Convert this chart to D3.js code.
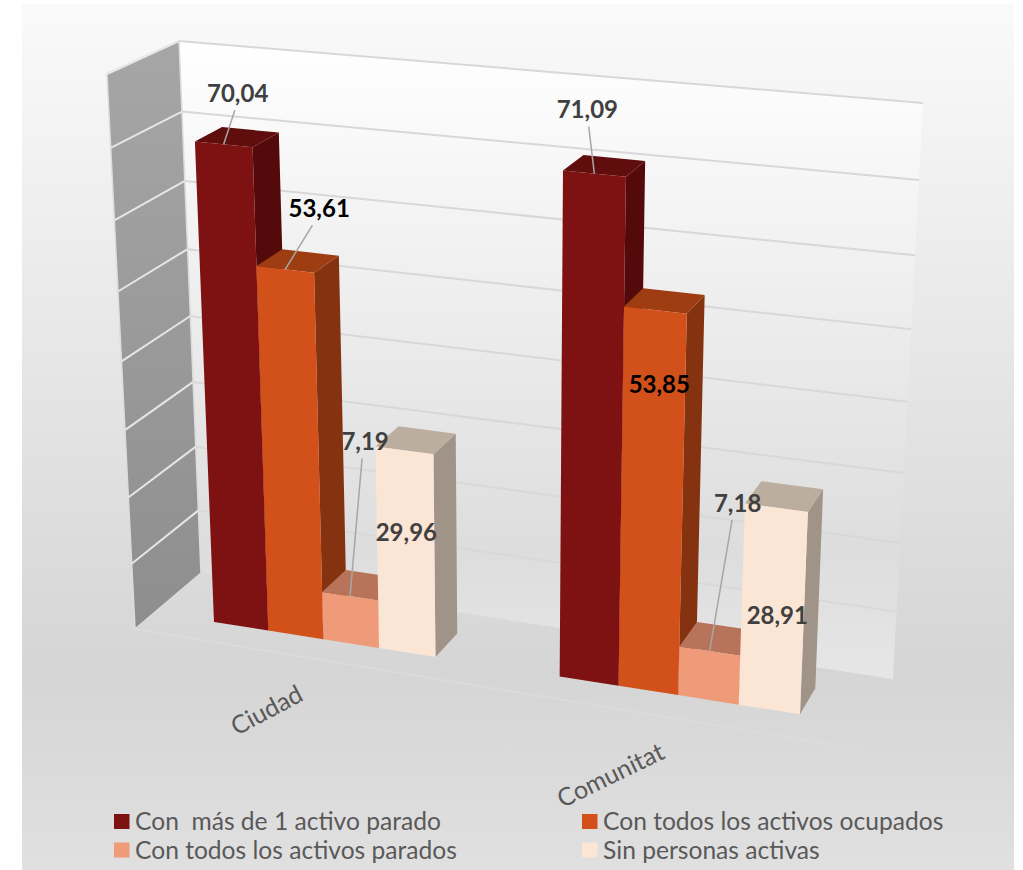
<!DOCTYPE html>
<html>
<head>
<meta charset="utf-8">
<script src="https://cdn.jsdelivr.net/npm/d3@7"></script>
<style>
  html, body { margin: 0; padding: 0; background: #fff; }
  text { font-family: Lato, "Open Sans", sans-serif; white-space: pre; }
</style>
</head>
<body>
<div id="chart"></div>
<script>
// Data
const categories = ["Ciudad", "Comunitat"];
const seriesNames = ["Con  más de 1 activo parado", "Con todos los activos ocupados", "Con todos los activos parados", "Sin personas activas"];
const masDeUnParado = [70.04, 71.09];
const todosOcupados = [53.61, 53.85];
const todosParados = [7.19, 7.18];
const sinActivas = [29.96, 28.91];
const seriesValues = [masDeUnParado, todosOcupados, todosParados, sinActivas];
const valueTicks = [10, 20, 30, 40, 50, 60, 70, 80];

// Face colours per series
const frontColors = ["#7e1212", "#d2501a", "#ef9a79", "#fbe5d5"];
const topColors = ["#5f0e0d", "#9e3d12", "#b7745a", "#bcae9f"];
const sideColors = ["#540a0a", "#843210", "#a0644d", "#a09488"];

// Where each label sits relative to the top of its bar: [dx, dy], leader or not, colour
const labelOffsets = [
  [[14, -52], [-7, -65]],
  [[34, -62], [4, 73]],
  [[15, -156], [28, -149]],
  [[2, 81], [1, 107]]
];
const leaderSeries = [[true, true], [true, false], [true, true], [false, false]];
const labelColors = ["#404040", "#000", "#404040", "#404040"];

// Maps the unit square onto a four corner quad (perspective)
function quadMap(p00, p10, p11, p01) {
  const dx1 = p10[0] - p11[0], dx2 = p01[0] - p11[0], sx = p00[0] - p10[0] + p11[0] - p01[0];
  const dy1 = p10[1] - p11[1], dy2 = p01[1] - p11[1], sy = p00[1] - p10[1] + p11[1] - p01[1];
  const det = dx1 * dy2 - dx2 * dy1;
  const g = (sx * dy2 - dx2 * sy) / det;
  const h = (dx1 * sy - sx * dy1) / det;
  const a = p10[0] - p00[0] + g * p10[0], b = p01[0] - p00[0] + h * p01[0], c = p00[0];
  const d = p10[1] - p00[1] + g * p10[1], e = p01[1] - p00[1] + h * p01[1], f = p00[1];
  return function(u, v) {
    const w = g * u + h * v + 1;
    return [(a * u + b * v + c) / w, (d * u + e * v + f) / w];
  };
}

const W = 1023, H = 870;
const svg = d3.select("#chart").append("svg").attr("width", W).attr("height", H);
const defs = svg.append("defs");

function gradient(id, stops, x1, y1, x2, y2) {
  const g = defs.append("linearGradient").attr("id", id)
    .attr("x1", x1).attr("y1", y1).attr("x2", x2).attr("y2", y2);
  stops.forEach(s => g.append("stop").attr("offset", s[0]).attr("stop-color", s[1]));
}
gradient("panelGrad", [[0, "#fafafa"], [0.77, "#d5d5d5"], [1, "#e0e0e0"]], 0, 0, 0, 1);
gradient("wallGrad", [[0, "#ffffff"], [0.8, "#dddddd"], [1, "#e6e6e6"]], 0, 0, 0, 1);
gradient("sideGrad", [[0, "#a6a6a6"], [1, "#8e8e8e"]], 0, 0, 0, 1);

// Scales
const vScale = d3.scaleLinear().domain([0, 80]).range([0, 1]);
const x0 = d3.scaleBand().domain(categories).range([0, 1]).paddingInner(0.35);
const x1 = d3.scaleBand().domain(seriesNames).range([0, x0.bandwidth()]);

// Walls and the two planes holding the bar faces
const backWall = quadMap([201, 573], [893, 679], [923, 103], [179, 41]);
const sideWall = quadMap([135, 629], [201, 573], [179, 41], [107, 74]);
const barFront = quadMap([214, 622], [800, 714.3], [823, 126], [192, 68]);
const barBack = quadMap([239, 600], [815.3, 688.3], [838, 111], [219.5, 55]);

const line = d3.line();
const polygon = pts => line(pts) + "Z";

svg.append("rect").attr("x", 22).attr("y", 4).attr("width", 992).attr("height", 866)
  .attr("fill", "url(#panelGrad)");

// back wall
svg.append("path")
  .attr("d", polygon([backWall(0, 0), backWall(1, 0), backWall(1, 1), backWall(0, 1)]))
  .attr("fill", "url(#wallGrad)");

// side wall
svg.append("path")
  .attr("d", polygon([sideWall(0, 0), sideWall(1, 0), sideWall(1, 1), sideWall(0, 1)]))
  .attr("fill", "url(#sideGrad)")
  .attr("stroke", "#dcdcdc").attr("stroke-width", 1.5);

// gridlines
svg.append("g").selectAll("line").data(valueTicks).enter().append("line")
  .attr("x1", d => backWall(0, vScale(d))[0])
  .attr("y1", d => backWall(0, vScale(d))[1])
  .attr("x2", d => backWall(1, vScale(d))[0])
  .attr("y2", d => backWall(1, vScale(d))[1])
  .attr("stroke", "#d8d8d8").attr("stroke-width", 2);

svg.append("g").selectAll("line").data(valueTicks).enter().append("line")
  .attr("x1", d => sideWall(0, vScale(d))[0])
  .attr("y1", d => sideWall(0, vScale(d))[1])
  .attr("x2", d => sideWall(1, vScale(d))[0])
  .attr("y2", d => sideWall(1, vScale(d))[1])
  .attr("stroke", "#e6e6e6").attr("stroke-width", 2);

// faint front edge of the floor
svg.append("line").attr("x1", 135).attr("y1", 629).attr("x2", 860).attr("y2", 749)
  .attr("stroke", "#dcdcdc").attr("stroke-width", 1.5);

// Bars, painted left to right so each front hides its neighbour's side
const bars = svg.append("g");
const tops = [];
categories.forEach((cat, c) => {
  seriesNames.forEach((name, s) => {
    const value = seriesValues[s][c];
    const u0 = x0(cat) + x1(name);
    const u1 = u0 + x1.bandwidth();
    const v = vScale(value);
    bars.append("path").attr("fill", sideColors[s])
      .attr("d", polygon([barFront(u1, 0), barBack(u1, 0), barBack(u1, v), barFront(u1, v)]));
    bars.append("path").attr("fill", topColors[s])
      .attr("d", polygon([barFront(u0, v), barFront(u1, v), barBack(u1, v), barBack(u0, v)]));
    bars.append("path").attr("fill", frontColors[s])
      .attr("d", polygon([barFront(u0, 0), barFront(u1, 0), barFront(u1, v), barFront(u0, v)]));
    tops.push({ s, c, value, anchor: barFront((u0 + u1) / 2, v) });
  });
});

// Data labels and their leader lines
const fmt = d3.formatLocale({ decimal: ",", thousands: ".", grouping: [3], currency: ["", "€"] }).format(".2f");
const labels = svg.append("g");
tops.forEach(t => {
  const off = labelOffsets[t.s][t.c];
  const lx = t.anchor[0] + off[0], ly = t.anchor[1] + off[1];
  if (leaderSeries[t.s][t.c]) {
    labels.append("line")
      .attr("x1", t.anchor[0]).attr("y1", t.anchor[1])
      .attr("x2", t.anchor[0] + off[0] * 0.8).attr("y2", ly + 18)
      .attr("stroke", "#a6a6a6").attr("stroke-width", 1.5);
  }
  labels.append("text")
    .attr("x", lx).attr("y", ly)
    .attr("text-anchor", "middle").attr("dominant-baseline", "central")
    .attr("font-size", 24).attr("font-weight", 700)
    .attr("fill", labelColors[t.s])
    .text(fmt(t.value));
});

// Category labels, following the floor edge
const catLabelPos = [[266, 709], [610, 774]];
const catLabelAngle = [-28, -26];
categories.forEach((cat, i) => {
  svg.append("text")
    .attr("transform", "translate(" + catLabelPos[i] + ") rotate(" + catLabelAngle[i] + ")")
    .attr("text-anchor", "middle").attr("dominant-baseline", "central")
    .attr("font-size", 25).attr("fill", "#595959")
    .text(cat);
});

// Legend
const legendX = [114, 582], legendY = [821.5, 850];
const legend = svg.append("g").selectAll("g").data(seriesNames).enter().append("g")
  .attr("transform", (d, i) => "translate(" + legendX[i % 2] + "," + legendY[Math.floor(i / 2)] + ")");
legend.append("rect").attr("x", 0).attr("y", -7.5).attr("width", 15.5).attr("height", 15)
  .attr("fill", (d, i) => frontColors[i]);
legend.append("text").attr("x", 21).attr("y", -1)
  .attr("dominant-baseline", "central")
  .attr("font-size", 24.6).attr("fill", "#595959")
  .text(d => d);
</script>
</body>
</html>
